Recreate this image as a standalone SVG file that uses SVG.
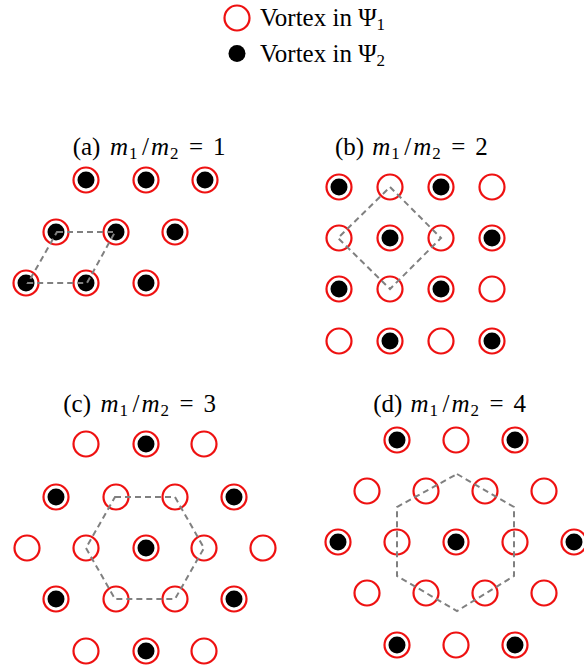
<svg xmlns="http://www.w3.org/2000/svg" width="584" height="669" viewBox="0 0 584 669">
<g id="legend-text">
<text x="260" y="26" font-family="'Times New Roman', 'Liberation Serif', 'DejaVu Serif', serif" font-size="25">Vortex in Ψ<tspan font-size="17" dy="4">1</tspan></text>
<text x="260" y="62" font-family="'Times New Roman', 'Liberation Serif', 'DejaVu Serif', serif" font-size="25">Vortex in Ψ<tspan font-size="17" dy="4">2</tspan></text>
</g>
<g id="titles">
<text id="title-a" x="72.7" y="155" font-family="'Times New Roman', 'Liberation Serif', 'DejaVu Serif', serif" font-size="25">(a)<tspan x="110" font-style="italic">m</tspan><tspan x="129" dy="4" font-size="17">1</tspan><tspan x="142" dy="-4">/</tspan><tspan x="151" font-style="italic">m</tspan><tspan x="170" dy="4" font-size="17">2</tspan><tspan x="189" dy="-4">=</tspan><tspan x="213">1</tspan></text>
<text id="title-b" x="335" y="155" font-family="'Times New Roman', 'Liberation Serif', 'DejaVu Serif', serif" font-size="25">(b)<tspan x="372.3" font-style="italic">m</tspan><tspan x="391.3" dy="4" font-size="17">1</tspan><tspan x="404.3" dy="-4">/</tspan><tspan x="413.3" font-style="italic">m</tspan><tspan x="432.3" dy="4" font-size="17">2</tspan><tspan x="451.3" dy="-4">=</tspan><tspan x="475.3">2</tspan></text>
<text id="title-c" x="63.3" y="412" font-family="'Times New Roman', 'Liberation Serif', 'DejaVu Serif', serif" font-size="25">(c)<tspan x="100.6" font-style="italic">m</tspan><tspan x="119.6" dy="4" font-size="17">1</tspan><tspan x="132.6" dy="-4">/</tspan><tspan x="141.6" font-style="italic">m</tspan><tspan x="160.6" dy="4" font-size="17">2</tspan><tspan x="179.6" dy="-4">=</tspan><tspan x="203.6">3</tspan></text>
<text id="title-d" x="373.3" y="412" font-family="'Times New Roman', 'Liberation Serif', 'DejaVu Serif', serif" font-size="25">(d)<tspan x="410.6" font-style="italic">m</tspan><tspan x="429.6" dy="4" font-size="17">1</tspan><tspan x="442.6" dy="-4">/</tspan><tspan x="451.6" font-style="italic">m</tspan><tspan x="470.6" dy="4" font-size="17">2</tspan><tspan x="489.6" dy="-4">=</tspan><tspan x="513.6">4</tspan></text>
</g>
<defs>
<g id="e"><circle r="12.5" fill="#fff" stroke="#ee1111" stroke-width="2.2"/></g>
<g id="f"><circle r="12.5" fill="#fff" stroke="#ee1111" stroke-width="2.2"/><circle r="8.5" fill="#000"/></g>
</defs>
<g id="legend">
<use href="#e" x="237" y="18"/>
<circle cx="237" cy="53.5" r="8.5" fill="#000"/>
</g>
<g id="panel-a">
<use id="a1" href="#f" x="86" y="180"/>
<use id="a2" href="#f" x="146" y="180"/>
<use id="a3" href="#f" x="205" y="180"/>
<use id="a4" href="#f" x="56" y="232"/>
<use id="a5" href="#f" x="116" y="232"/>
<use id="a6" href="#f" x="175" y="232"/>
<use id="a7" href="#f" x="26" y="283"/>
<use id="a8" href="#f" x="86" y="283"/>
<use id="a9" href="#f" x="146" y="283"/>
</g>
<g id="panel-b">
<use id="b1" href="#f" x="339" y="187"/>
<use id="b2" href="#e" x="390" y="187"/>
<use id="b3" href="#f" x="441" y="187"/>
<use id="b4" href="#e" x="492" y="187"/>
<use id="b5" href="#e" x="339" y="238"/>
<use id="b6" href="#f" x="390" y="238"/>
<use id="b7" href="#e" x="441" y="238"/>
<use id="b8" href="#f" x="492" y="238"/>
<use id="b9" href="#f" x="339" y="289"/>
<use id="b10" href="#e" x="390" y="289"/>
<use id="b11" href="#f" x="441" y="289"/>
<use id="b12" href="#e" x="492" y="289"/>
<use id="b13" href="#e" x="339" y="341"/>
<use id="b14" href="#f" x="390" y="341"/>
<use id="b15" href="#e" x="441" y="341"/>
<use id="b16" href="#f" x="492" y="341"/>
</g>
<g id="panel-c">
<use id="c1" href="#e" x="86" y="444"/>
<use id="c2" href="#f" x="146" y="444"/>
<use id="c3" href="#e" x="204" y="444"/>
<use id="c4" href="#f" x="56" y="497"/>
<use id="c5" href="#e" x="116" y="497"/>
<use id="c6" href="#e" x="175" y="497"/>
<use id="c7" href="#f" x="234" y="497"/>
<use id="c8" href="#e" x="27" y="548"/>
<use id="c9" href="#e" x="86" y="548"/>
<use id="c10" href="#f" x="146" y="548"/>
<use id="c11" href="#e" x="204" y="548"/>
<use id="c12" href="#e" x="263" y="548"/>
<use id="c13" href="#f" x="56" y="599"/>
<use id="c14" href="#e" x="116" y="599"/>
<use id="c15" href="#e" x="175" y="599"/>
<use id="c16" href="#f" x="234" y="599"/>
<use id="c17" href="#e" x="86" y="651"/>
<use id="c18" href="#f" x="146" y="651"/>
<use id="c19" href="#e" x="204" y="651"/>
</g>
<g id="panel-d">
<use id="d1" href="#f" x="397" y="440"/>
<use id="d2" href="#e" x="456" y="440"/>
<use id="d3" href="#f" x="515" y="440"/>
<use id="d4" href="#e" x="367" y="491"/>
<use id="d5" href="#e" x="426" y="491"/>
<use id="d6" href="#e" x="485" y="491"/>
<use id="d7" href="#e" x="544" y="491"/>
<use id="d8" href="#f" x="338" y="542"/>
<use id="d9" href="#e" x="397" y="542"/>
<use id="d10" href="#f" x="456" y="542"/>
<use id="d11" href="#e" x="515" y="542"/>
<use id="d12" href="#f" x="574" y="542"/>
<use id="d13" href="#e" x="367" y="593"/>
<use id="d14" href="#e" x="426" y="593"/>
<use id="d15" href="#e" x="485" y="593"/>
<use id="d16" href="#e" x="544" y="593"/>
<use id="d17" href="#f" x="397" y="645"/>
<use id="d18" href="#e" x="456" y="645"/>
<use id="d19" href="#f" x="515" y="645"/>
</g>
<g id="connectors" fill="none" stroke="#808080" stroke-width="2" stroke-dasharray="6 4">
<polygon points="57,232 115,232 87,283 28,283"/>
<polygon points="390,187 441,238 390,289 338,238"/>
<polygon points="115,497 175,497 204,548 175,599 115,599 86,548"/>
<polygon points="457,474 514,507 514,576 457,611 397,576 397,507"/>
</g>
</svg>
